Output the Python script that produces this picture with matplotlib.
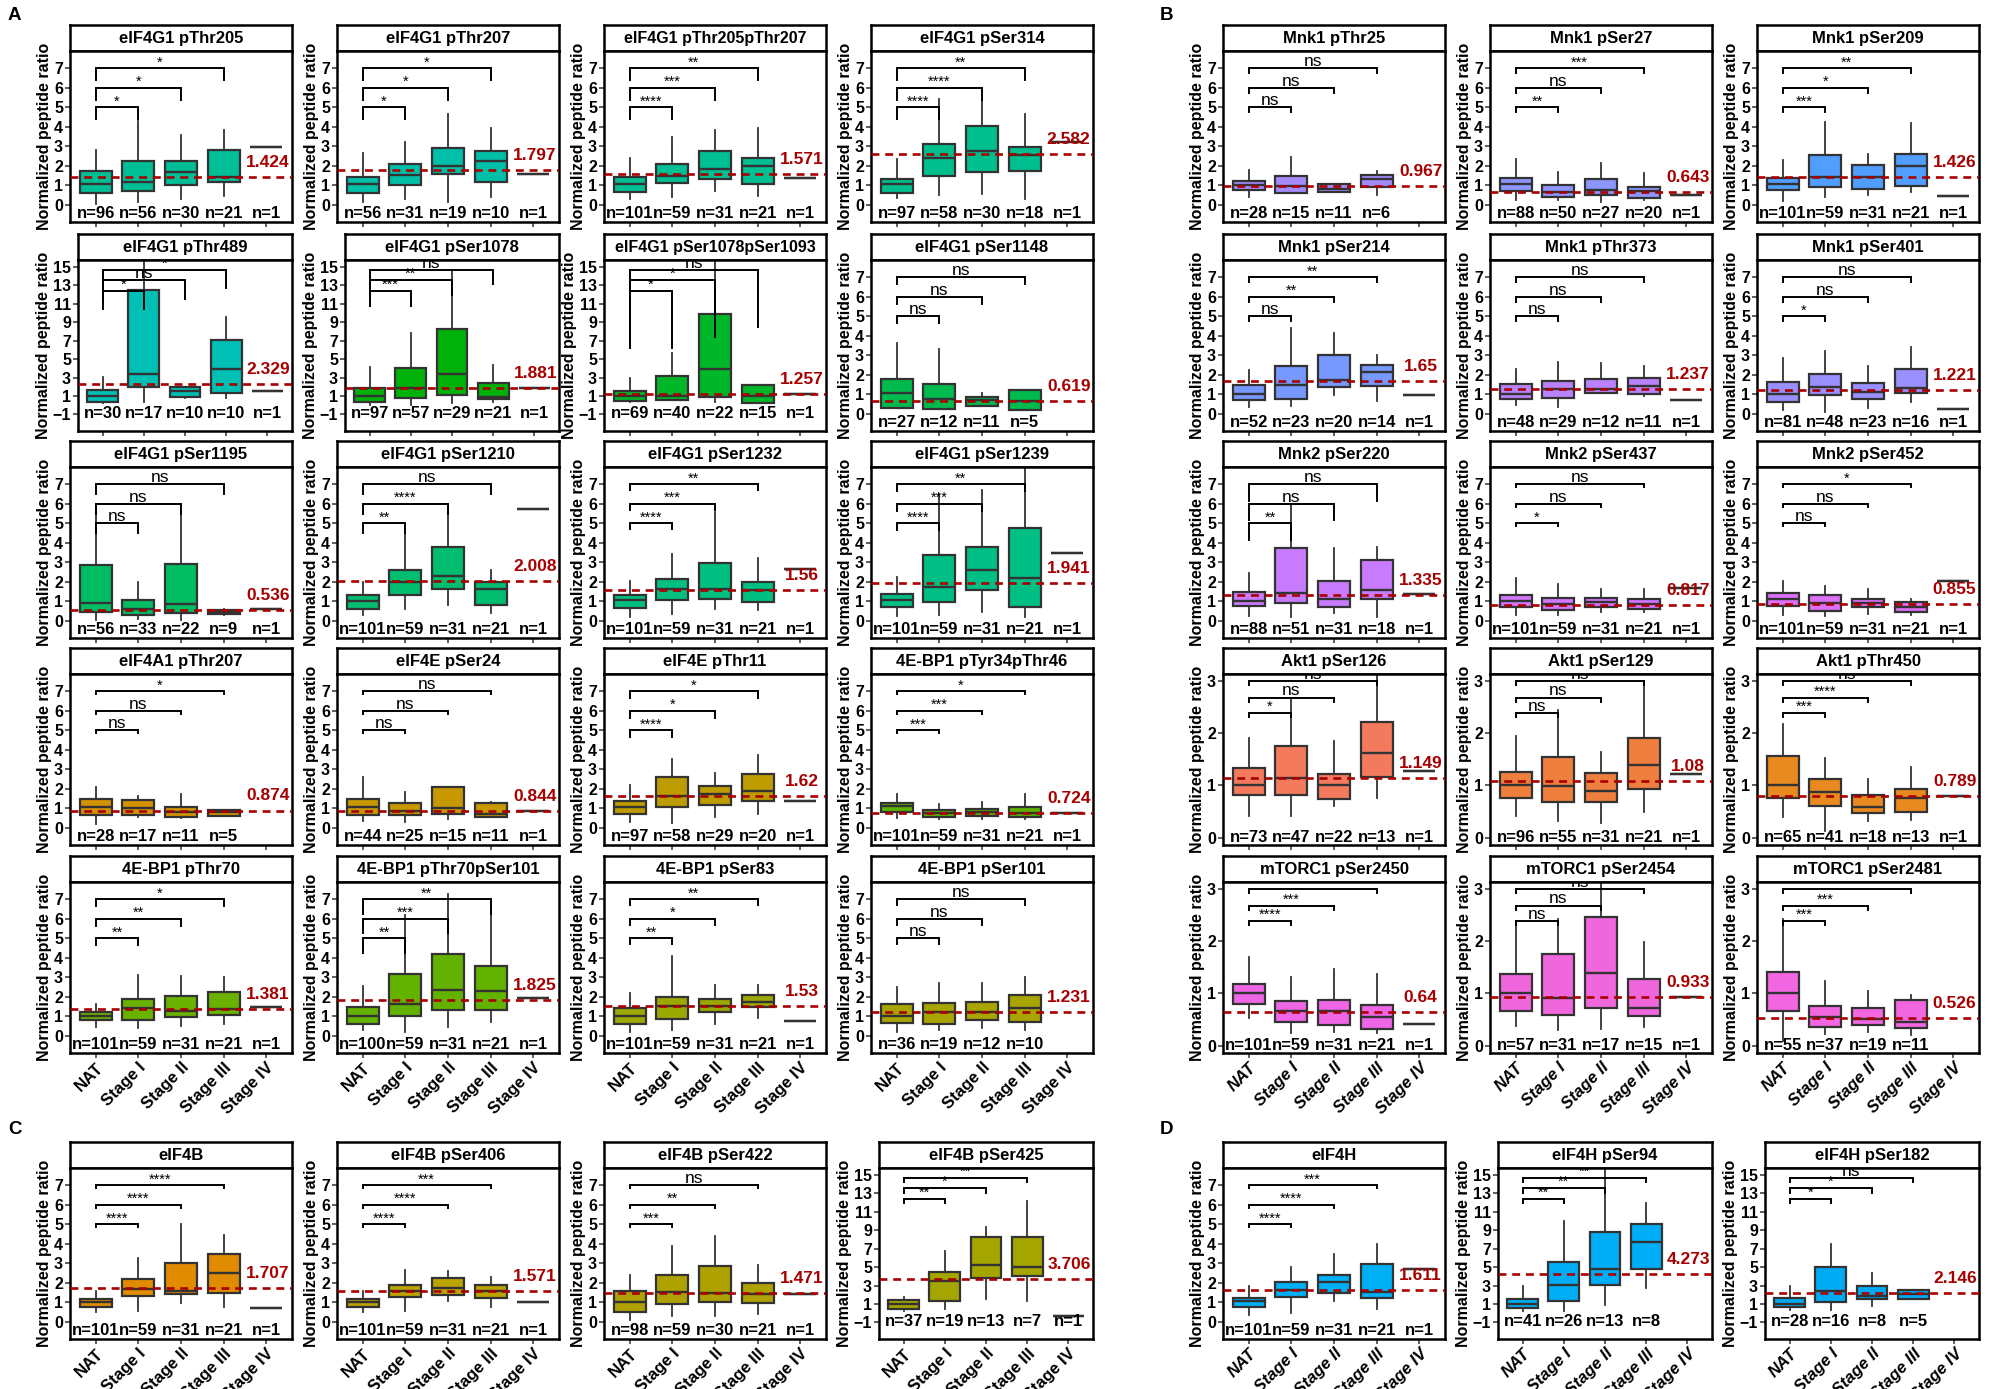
import matplotlib
matplotlib.use('Agg')
import matplotlib.pyplot as plt

plt.rcParams['font.family'] = ['Liberation Sans', 'DejaVu Sans']
plt.rcParams['font.weight'] = 'bold'

stages = ['NAT', 'Stage I', 'Stage II', 'Stage III', 'Stage IV']

titles = [
    # A
    'eIF4G1 pThr205', 'eIF4G1 pThr207', 'eIF4G1 pThr205pThr207', 'eIF4G1 pSer314',
    'eIF4G1 pThr489', 'eIF4G1 pSer1078', 'eIF4G1 pSer1078pSer1093', 'eIF4G1 pSer1148',
    'eIF4G1 pSer1195', 'eIF4G1 pSer1210', 'eIF4G1 pSer1232', 'eIF4G1 pSer1239',
    'eIF4A1 pThr207', 'eIF4E pSer24', 'eIF4E pThr11', '4E-BP1 pTyr34pThr46',
    '4E-BP1 pThr70', '4E-BP1 pThr70pSer101', '4E-BP1 pSer83', '4E-BP1 pSer101',
    # B
    'Mnk1 pThr25', 'Mnk1 pSer27', 'Mnk1 pSer209',
    'Mnk1 pSer214', 'Mnk1 pThr373', 'Mnk1 pSer401',
    'Mnk2 pSer220', 'Mnk2 pSer437', 'Mnk2 pSer452',
    'Akt1 pSer126', 'Akt1 pSer129', 'Akt1 pThr450',
    'mTORC1 pSer2450', 'mTORC1 pSer2454', 'mTORC1 pSer2481',
    # C
    'eIF4B', 'eIF4B pSer406', 'eIF4B pSer422', 'eIF4B pSer425',
    # D
    'eIF4H', 'eIF4H pSer94', 'eIF4H pSer182',
]

# (whisker low, Q1, median, Q3, whisker high) for NAT, Stage I, Stage II, Stage III
box_stats = [
    [(0.05, 0.6, 1.03, 1.72, 2.8), (0.14, 0.7, 1.17, 2.23, 4.3), (0.27, 1.0, 1.65, 2.23, 3.6), (0.43, 1.17, 1.42, 2.83, 3.85)],
    [(0.14, 0.6, 1.03, 1.42, 2.66), (0.27, 1.0, 1.54, 2.06, 3.22), (0.14, 1.55, 1.97, 2.92, 4.68), (0.4, 1.17, 2.25, 2.75, 3.95)],
    [(0.26, 0.62, 1.03, 1.42, 2.37), (0.4, 1.11, 1.46, 2.07, 3.5), (0.7, 1.3, 1.85, 2.75, 3.86), (0.43, 1.08, 1.97, 2.4, 3.95)],
    [(0.31, 0.6, 1.03, 1.3, 2.32), (0.48, 1.46, 2.37, 3.09, 5.45), (0.53, 1.68, 2.76, 4.03, 5.37), (0.27, 1.72, 2.54, 2.97, 4.68)],
    [(0.23, 0.3, 0.98, 1.67, 3.03), (0.38, 2.0, 3.38, 12.5, 15.8), (0.8, 0.9, 1.5, 1.95, 2.0), (0.8, 1.32, 3.9, 7.07, 9.6)],
    [(0.0, 0.37, 1.0, 1.9, 4.1), (0.06, 0.8, 1.85, 4.0, 7.8), (0.2, 1.1, 3.38, 8.3, 14.7), (0.3, 0.64, 0.88, 2.42, 4.4)],
    [(0.37, 0.47, 0.98, 1.56, 2.93), (0.54, 0.6, 0.98, 3.2, 5.7), (0.37, 0.88, 3.9, 9.84, 15.8), (0.2, 0.26, 0.95, 2.18, 2.2)],
    [(0.26, 0.26, 1.03, 1.77, 3.65), (0.22, 0.22, 0.77, 1.5, 3.34), (0.38, 0.38, 0.69, 0.86, 1.03), (0.17, 0.17, 0.65, 1.23, 1.23)],
    [(0.05, 0.45, 0.9, 2.85, 6.0), (0.1, 0.3, 0.6, 1.05, 2.0), (0.05, 0.4, 0.85, 2.9, 5.5), (0.3, 0.35, 0.45, 0.55, 0.6)],
    [(0.3, 0.6, 1.0, 1.3, 2.0), (0.6, 1.3, 2.0, 2.6, 4.5), (0.8, 1.6, 2.3, 3.8, 6.0), (0.4, 0.8, 1.6, 2.0, 2.6)],
    [(0.2, 0.63, 1.03, 1.32, 2.04), (0.33, 1.03, 1.61, 2.14, 3.42), (0.6, 1.11, 1.61, 2.95, 5.6), (0.55, 0.94, 1.58, 1.97, 3.24)],
    [(0.24, 0.72, 1.03, 1.35, 2.26), (0.26, 0.94, 1.71, 3.37, 6.5), (0.43, 1.58, 2.6, 3.8, 6.7), (0.2, 0.72, 2.17, 4.74, 8.5)],
    [(0.19, 0.65, 1.04, 1.47, 2.06), (0.53, 0.65, 0.99, 1.42, 1.62), (0.48, 0.53, 0.82, 1.04, 1.72), (0.61, 0.61, 0.78, 0.9, 0.9)],
    [(0.36, 0.65, 1.04, 1.47, 2.58), (0.26, 0.65, 0.85, 1.25, 1.81), (0.44, 0.7, 1.02, 2.06, 2.06), (0.53, 0.56, 0.7, 1.28, 1.3)],
    [(0.26, 0.7, 1.04, 1.37, 2.18), (0.22, 1.04, 1.62, 2.58, 3.52), (0.53, 1.16, 1.72, 2.15, 2.78), (0.68, 1.38, 1.89, 2.73, 3.75)],
    [(0.48, 0.82, 1.11, 1.25, 1.72), (0.44, 0.56, 0.73, 0.9, 1.21), (0.44, 0.6, 0.78, 0.96, 1.33), (0.44, 0.53, 0.73, 1.08, 1.72)],
    [(0.45, 0.82, 1.0, 1.22, 1.6), (0.39, 0.82, 1.42, 1.89, 3.1), (0.48, 0.96, 1.25, 2.02, 3.05), (0.57, 1.08, 1.34, 2.23, 3.0)],
    [(0.26, 0.57, 1.0, 1.48, 2.57), (0.2, 1.0, 1.6, 3.15, 6.2), (0.45, 1.3, 2.35, 4.2, 7.3), (0.7, 1.3, 2.3, 3.6, 6.2)],
    [(0.2, 0.6, 1.0, 1.4, 2.2), (0.3, 0.85, 1.5, 2.0, 4.1), (0.6, 1.2, 1.5, 1.9, 2.6), (0.9, 1.45, 1.75, 2.1, 2.6)],
    [(0.2, 0.65, 1.0, 1.6, 2.5), (0.3, 0.6, 1.2, 1.65, 2.7), (0.4, 0.8, 1.2, 1.7, 2.7), (0.3, 0.7, 1.4, 2.1, 3.0)],
    [(0.39, 0.74, 0.99, 1.2, 1.8), (0.57, 0.57, 0.94, 1.48, 2.45), (0.65, 0.65, 0.82, 1.08, 1.08), (0.48, 0.91, 1.3, 1.54, 1.72)],
    [(0.22, 0.7, 1.05, 1.37, 2.32), (0.22, 0.39, 0.65, 1.0, 1.68), (0.14, 0.48, 0.74, 1.29, 2.14), (0.22, 0.34, 0.69, 0.91, 1.6)],
    [(0.19, 0.74, 1.03, 1.34, 2.28), (0.39, 0.91, 1.42, 2.54, 4.25), (0.51, 0.82, 1.42, 2.02, 2.62), (0.62, 0.96, 1.99, 2.59, 4.17)],
    [(0.34, 0.68, 1.02, 1.45, 2.25), (0.38, 0.77, 1.45, 2.42, 4.4), (0.94, 1.37, 1.71, 2.99, 4.13), (0.63, 1.4, 2.13, 2.49, 2.99)],
    [(0.43, 0.73, 0.99, 1.5, 2.3), (0.34, 0.82, 1.25, 1.66, 2.65), (1.06, 1.06, 1.25, 1.79, 2.59), (0.89, 1.02, 1.42, 1.84, 2.47)],
    [(0.2, 0.6, 0.99, 1.62, 2.85), (0.09, 0.94, 1.38, 2.05, 3.24), (0.29, 0.77, 1.11, 1.57, 2.42), (0.6, 1.06, 1.33, 2.27, 3.41)],
    [(0.24, 0.75, 1.02, 1.45, 2.42), (0.2, 0.89, 1.43, 3.74, 6.0), (0.38, 0.72, 1.11, 2.03, 3.74), (0.17, 1.09, 1.57, 3.1, 3.79)],
    [(0.29, 0.68, 1.02, 1.31, 2.17), (0.29, 0.55, 0.84, 1.18, 1.86), (0.43, 0.72, 0.97, 1.14, 1.62), (0.46, 0.58, 0.84, 1.09, 1.6)],
    [(0.29, 0.75, 1.09, 1.4, 2.05), (0.24, 0.51, 0.89, 1.31, 1.79), (0.32, 0.67, 0.89, 1.11, 1.6), (0.29, 0.43, 0.72, 0.94, 1.09)],
    [(0.42, 0.82, 1.0, 1.33, 1.91), (0.42, 0.82, 1.14, 1.75, 2.68), (0.61, 0.74, 1.0, 1.21, 1.84), (0.76, 1.16, 1.62, 2.22, 3.2)],
    [(0.42, 0.75, 1.0, 1.25, 1.94), (0.32, 0.69, 0.98, 1.55, 2.44), (0.29, 0.69, 0.9, 1.23, 1.64), (0.49, 0.94, 1.39, 1.91, 3.0)],
    [(0.39, 0.75, 1.0, 1.57, 2.18), (0.13, 0.61, 0.88, 1.12, 1.52), (0.32, 0.47, 0.58, 0.82, 1.12), (0.34, 0.49, 0.75, 0.93, 1.35)],
    [(0.53, 0.8, 1.01, 1.17, 1.7), (0.24, 0.46, 0.66, 0.85, 1.31), (0.27, 0.4, 0.66, 0.88, 1.47), (0.24, 0.32, 0.55, 0.77, 1.37)],
    [(0.38, 0.66, 1.01, 1.37, 2.39), (0.3, 0.58, 0.92, 1.75, 2.42), (0.32, 0.73, 1.39, 2.47, 3.13), (0.35, 0.56, 0.72, 1.28, 1.99)],
    [(0.08, 0.67, 1.01, 1.41, 2.42), (0.22, 0.35, 0.55, 0.75, 1.23), (0.26, 0.39, 0.51, 0.73, 1.04), (0.21, 0.33, 0.45, 0.87, 0.96)],
    [(0.48, 0.74, 0.98, 1.17, 1.58), (0.55, 1.33, 1.69, 2.19, 3.27), (0.95, 1.43, 1.58, 3.01, 5.04), (0.77, 1.46, 2.5, 3.48, 4.47)],
    [(0.48, 0.77, 0.98, 1.17, 1.58), (0.55, 1.24, 1.55, 1.86, 2.63), (1.08, 1.38, 1.72, 2.24, 2.58), (0.74, 1.2, 1.58, 1.89, 2.27)],
    [(0.1, 0.5, 1.0, 1.55, 2.4), (0.3, 0.9, 1.5, 2.4, 3.9), (0.3, 1.0, 1.45, 2.85, 4.4), (0.4, 0.95, 1.4, 2.0, 2.9)],
    [(0.2, 0.45, 1.0, 1.4, 1.8), (0.5, 1.3, 3.5, 4.5, 6.7), (1.5, 3.8, 5.2, 8.3, 9.3), (1.3, 4.0, 5.0, 8.3, 12.2)],
    [(0.33, 0.77, 1.06, 1.23, 1.83), (0.43, 1.28, 1.61, 2.05, 2.81), (1.06, 1.49, 2.04, 2.4, 3.49), (0.63, 1.23, 1.52, 2.98, 4.0)],
    [(0.2, 0.54, 1.05, 1.57, 3.0), (0.2, 1.29, 3.04, 5.5, 9.96), (0.88, 3.04, 4.75, 8.83, 15.8), (2.77, 4.82, 7.73, 9.72, 11.9)],
    [(0.3, 0.64, 1.05, 1.64, 3.0), (0.37, 1.23, 2.36, 5.06, 7.46), (0.82, 1.5, 1.84, 2.94, 4.38), (1.57, 1.57, 2.08, 2.49, 2.49)],
]

# single Stage IV sample (None = not drawn)
stage4 = [2.97, 1.56, 1.37, 3.2,
          1.56, 1.85, 1.25, None,
          0.6, 5.75, 2.64, 3.46,
          None, 0.85, 1.38, 0.77,
          1.48, 1.95, 0.75, None,
          None, 0.51, 0.43,
          0.97, 0.68, 0.22,
          1.35, 1.65, 2.05,
          1.27, 1.22, 0.79,
          0.42, 0.93, None,
          0.72, 1.0, 1.4, -0.3,
          2.72, None, None]

ref_values = [1.424, 1.797, 1.571, 2.582,
              2.329, 1.881, 1.257, 0.619,
              0.536, 2.008, 1.56, 1.941,
              0.874, 0.844, 1.62, 0.724,
              1.381, 1.825, 1.53, 1.231,
              0.967, 0.643, 1.426,
              1.65, 1.237, 1.221,
              1.335, 0.817, 0.855,
              1.149, 1.08, 0.789,
              0.64, 0.933, 0.526,
              1.707, 1.571, 1.471, 3.706,
              1.611, 4.273, 2.146]

n_counts = [
    [96, 56, 30, 21, 1], [56, 31, 19, 10, 1], [101, 59, 31, 21, 1], [97, 58, 30, 18, 1],
    [30, 17, 10, 10, 1], [97, 57, 29, 21, 1], [69, 40, 22, 15, 1], [27, 12, 11, 5],
    [56, 33, 22, 9, 1], [101, 59, 31, 21, 1], [101, 59, 31, 21, 1], [101, 59, 31, 21, 1],
    [28, 17, 11, 5], [44, 25, 15, 11, 1], [97, 58, 29, 20, 1], [101, 59, 31, 21, 1],
    [101, 59, 31, 21, 1], [100, 59, 31, 21, 1], [101, 59, 31, 21, 1], [36, 19, 12, 10],
    [28, 15, 11, 6], [88, 50, 27, 20, 1], [101, 59, 31, 21, 1],
    [52, 23, 20, 14, 1], [48, 29, 12, 11, 1], [81, 48, 23, 16, 1],
    [88, 51, 31, 18, 1], [101, 59, 31, 21, 1], [101, 59, 31, 21, 1],
    [73, 47, 22, 13, 1], [96, 55, 31, 21, 1], [65, 41, 18, 13, 1],
    [101, 59, 31, 21, 1], [57, 31, 17, 15, 1], [55, 37, 19, 11],
    [101, 59, 31, 21, 1], [101, 59, 31, 21, 1], [98, 59, 30, 21, 1], [37, 19, 13, 7, 1],
    [101, 59, 31, 21, 1], [41, 26, 13, 8], [28, 16, 8, 5],
]

# NAT vs Stage I, NAT vs Stage II, NAT vs Stage III
sig_labels = [
    ['*', '*', '*'], ['*', '*', '*'], ['****', '***', '**'], ['****', '****', '**'],
    ['*', 'ns', '*'], ['***', '**', 'ns'], ['*', '*', 'ns'], ['ns', 'ns', 'ns'],
    ['ns', 'ns', 'ns'], ['**', '****', 'ns'], ['****', '***', '**'], ['****', '***', '**'],
    ['ns', 'ns', '*'], ['ns', 'ns', 'ns'], ['****', '*', '*'], ['***', '***', '*'],
    ['**', '**', '*'], ['**', '***', '**'], ['**', '*', '**'], ['ns', 'ns', 'ns'],
    ['ns', 'ns', 'ns'], ['**', 'ns', '***'], ['***', '*', '**'],
    ['ns', '**', '**'], ['ns', 'ns', 'ns'], ['*', 'ns', 'ns'],
    ['**', 'ns', 'ns'], ['*', 'ns', 'ns'], ['ns', 'ns', '*'],
    ['*', 'ns', 'ns'], ['ns', 'ns', 'ns'], ['***', '****', 'ns'],
    ['****', '***', '****'], ['ns', 'ns', 'ns'], ['***', '***', '*'],
    ['****', '****', '****'], ['****', '****', '***'], ['***', '**', 'ns'], ['**', '*', '**'],
    ['****', '****', '***'], ['**', '**', '**'], ['*', '*', 'ns'],
]

# ---- styling ----
colors = ['#00BE96', '#00BFA8', '#00BF92', '#00BF8E',
          '#00BFB4', '#00B10A', '#00B72A', '#00BA4E',
          '#00BC62', '#00BD70', '#00BF80', '#00BF85',
          '#D39200', '#C89800', '#BE9C00', '#5BB300',
          '#6BB100', '#64B200', '#9AA800', '#A8A400',
          '#A58AFF', '#8D95FF', '#529EFF',
          '#7799FF', '#B983FF', '#9A8FFF',
          '#C97BFF', '#D376FF', '#DD6FF8',
          '#F47A5E', '#EE7F3F', '#E88A20',
          '#EE66E6', '#F066DC', '#F366E2',
          '#E08B00', '#BCA300', '#AFA200', '#A5A500',
          '#00B0F6', '#00AEF8', '#00ABF5']

scale_of = (['s'] * 4 + ['w', 'w', 'w', 's'] + ['s'] * 12
            + ['s'] * 9 + ['k'] * 6
            + ['s', 's', 's', 'w']
            + ['s', 'w', 'w'])

SCALES = {
    's': dict(ylim=(-0.9, 7.9), ticks=list(range(0, 8)), br=(5, 6, 7), n_y=-0.45),
    'w': dict(ylim=(-2.8, 15.75), ticks=list(range(-1, 16, 2)), br=(12.4, 13.55, 14.7), n_y=-0.9),
    'k': dict(ylim=(-0.14, 3.13), ticks=[0, 1, 2, 3], br=(2.38, 2.68, 3.0), n_y=0.0),
}

tips = ([0.6] * 4 + [2.0, 1.6, 6.2, 0.35] + [0.5, 0.5, 0.3, 0.35]
        + [0.15, 0.15, 0.35, 0.15] + [0.35, 0.75, 0.3, 0.3]
        + [0.25] * 6 + [0.85, 0.15, 0.15] + [0.08] * 6
        + [0.15, 0.15, 0.15, 0.5] + [0.15, 0.5, 0.5])

W, H = 2013, 1389
ROW_TOP = [25, 234, 441, 648, 856]
A_LEFT = [70, 337, 604, 871]
B_LEFT = [1223, 1490, 1757]
CD_TOP = 1142
STRIP_H, PLOT_H, PANEL_W = 26, 171, 222

slots = []
for i in range(20):
    slots.append((A_LEFT[i % 4], ROW_TOP[i // 4], i >= 16, False))
for i in range(15):
    slots.append((B_LEFT[i % 3], ROW_TOP[i // 3], i >= 12, True))
for i in range(4):
    slots.append((A_LEFT[i], CD_TOP, True, False))
for i in range(3):
    slots.append((B_LEFT[i], CD_TOP, True, True))

EDGE = '#333333'
RED = '#A80000'
FAM = ['Liberation Sans', 'DejaVu Sans']


def frac(left, top, w, h):
    return [left / W, 1 - (top + h) / H, w / W, h / H]


def tick_text(t):
    return str(t).replace('-', '\u2212')


fig = plt.figure(figsize=(W / 100, H / 100), dpi=100)

for k, title in enumerate(titles):
    left, top, show_x, slanted = slots[k]
    sc = SCALES[scale_of[k]]
    width = PANEL_W
    if scale_of[k] == 'w' and left != A_LEFT[2]:
        left += 8
        width -= 8
    lo, hi = sc['ylim']
    rng = hi - lo

    # strip with the title
    ax_s = fig.add_axes(frac(left, top, width, STRIP_H))
    ax_s.set_xticks([])
    ax_s.set_yticks([])
    for sp in ax_s.spines.values():
        sp.set_linewidth(1.8)
    ax_s.text(0.5, 0.48, title, transform=ax_s.transAxes, ha='center', va='center',
              fontsize=12 if len(title) < 21 else 11.5, fontweight='bold', family=FAM)

    ax = fig.add_axes(frac(left, top + STRIP_H, width, PLOT_H))

    stats = [dict(whislo=a, q1=b, med=c, q3=d, whishi=e) for a, b, c, d, e in box_stats[k]]
    pos = [1, 2, 3, 4]
    if stage4[k] is not None:
        v = stage4[k]
        stats.append(dict(whislo=v, q1=v, med=v, q3=v, whishi=v))
        pos.append(5)
    ax.bxp(stats, positions=pos, widths=0.75, patch_artist=True, showfliers=False,
           showcaps=False, manage_ticks=False,
           boxprops=dict(facecolor=colors[k], edgecolor=EDGE, linewidth=1.6),
           whiskerprops=dict(color=EDGE, linewidth=1.3),
           medianprops=dict(color=EDGE, linewidth=1.7))

    # reference line (Stage IV / overall value)
    ref = ref_values[k]
    ax.axhline(ref, color=RED, linestyle=(0, (3, 2.2)), linewidth=1.9, zorder=5)
    ax.text(5.03, ref + 0.085 * rng, str(ref), ha='center', va='center', color=RED,
            fontsize=12.5, fontweight='bold', family=FAM, zorder=6)

    # significance brackets
    for j, (lab, yb) in enumerate(zip(sig_labels[k], sc['br'])):
        x2 = j + 2
        t = tips[k]
        ax.plot([1, 1, x2, x2], [yb - t, yb, yb, yb - t], color='black', linewidth=1.4,
                solid_joinstyle='miter', zorder=4)
        ax.text((1 + x2) / 2, yb + 0.012 * rng, lab, ha='center', va='baseline',
                fontsize=12.5 if lab == 'ns' else 10.5, fontweight='normal', family=FAM,
                clip_on=True, zorder=6)

    for i, n in enumerate(n_counts[k]):
        ax.text(i + 1, sc['n_y'], f'n={n}', ha='center', va='center', fontsize=12,
                fontweight='bold', family=FAM)

    ax.set_xlim(0.4, 5.6)
    ax.set_ylim(lo, hi)
    ax.set_yticks(sc['ticks'])
    ax.set_yticklabels([tick_text(t) for t in sc['ticks']], fontsize=11.5, fontweight='bold', family=FAM)
    ax.set_xticks([1, 2, 3, 4, 5])
    if show_x:
        ax.set_xticklabels(stages, rotation=45, ha='right', va='top', rotation_mode='anchor',
                           fontsize=12, fontweight='bold', family=FAM,
                           style='italic' if slanted else 'normal')
    else:
        ax.set_xticklabels([])
    ax.tick_params(axis='both', direction='out', length=3.5, width=1.1, color=EDGE, pad=1.5)
    ax.set_ylabel('Normalized peptide ratio', fontsize=11.5, fontweight='bold', family=FAM, labelpad=1.5)
    for sp in ax.spines.values():
        sp.set_linewidth(1.8)

for lab, x, y in [('A', 8, 16), ('B', 1160, 16), ('C', 8, 1130), ('D', 1160, 1130)]:
    fig.text(x / W, 1 - y / H, lab, ha='left', va='center', fontsize=13.5, fontweight='bold')

fig.savefig('out.png', dpi=100)
